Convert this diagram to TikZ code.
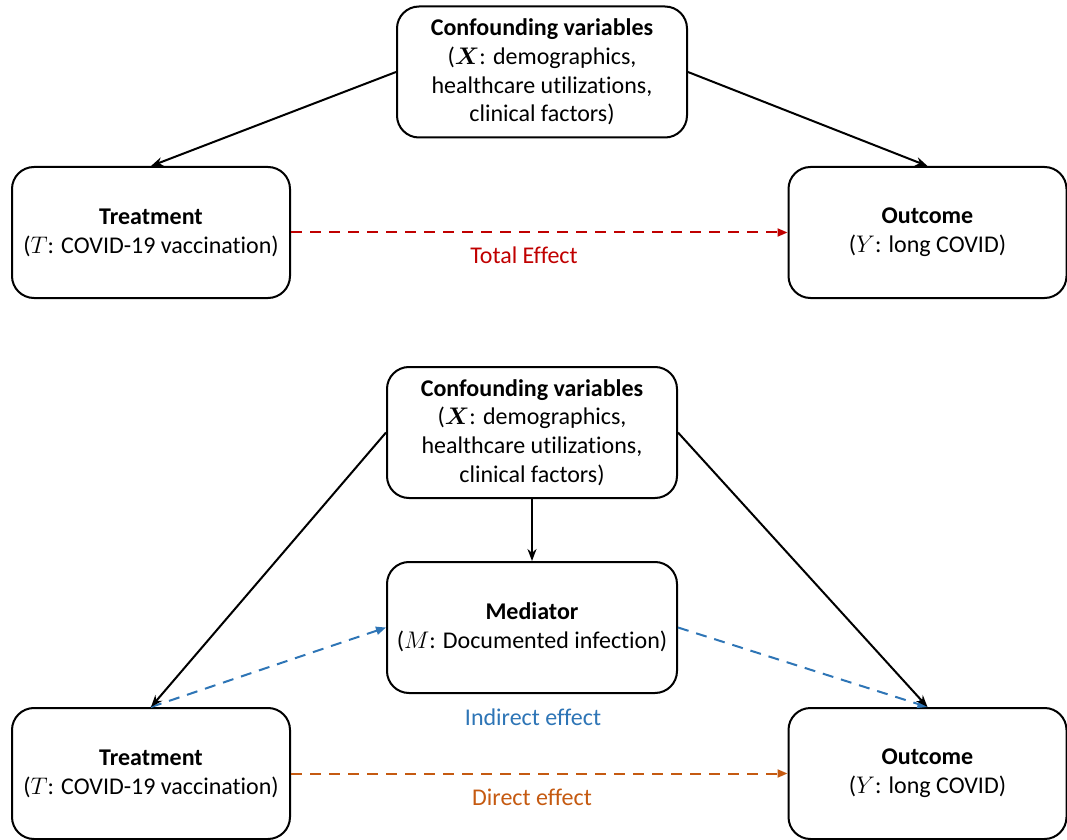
\documentclass[tikz,border=0pt]{standalone}
\usepackage{fontspec}
\setmainfont{Carlito}[Ligatures=NoCommon]
\usepackage{amsmath}
\usetikzlibrary{arrows.meta}
\definecolor{totalred}{RGB}{192,0,0}
\definecolor{indirblue}{RGB}{46,117,182}
\definecolor{dirorange}{RGB}{197,90,17}

\begin{document}
\begin{tikzpicture}[x=0.5pt,y=-0.5pt,
    font=\fontsize{12}{14.4}\selectfont,
    var/.style={draw,line width=1pt,rounded corners=11pt,align=center,minimum height=65.5pt,inner sep=0pt},
    side/.style={var,minimum width=139pt},
    mid/.style={var,minimum width=145pt},
    cause/.style={line width=1pt,-{Stealth[length=6pt,width=4.5pt]}},
    effect/.style={line width=1pt,dash pattern=on 5.5pt off 4pt,-{Triangle[length=5pt,width=4pt]}}]
    \useasboundingbox (0,0) rectangle (1067,840);
    \node[mid] (conf) at (542,72) {\textbf{Confounding variables}\\($\boldsymbol{X}$: demographics,\\healthcare utilizations,\\clinical factors)};
    \node[side] (treat) at (151,232.5) {\textbf{Treatment}\\($T$: COVID-19 vaccination)};
    \node[side] (outc) at (927.5,232.5) {\textbf{Outcome}\\($Y$: long COVID)};
    \draw[cause] (conf.west) -- (treat.north);
    \draw[cause] (conf.east) -- (outc.north);
    \draw[effect,totalred] (treat.east) -- (outc.west);
    \node[totalred] (total) at (524,255) {Total Effect};
    \node[mid] (conf2) at (532,432.5) {\textbf{Confounding variables}\\($\boldsymbol{X}$: demographics,\\healthcare utilizations,\\clinical factors)};
    \node[mid] (medi) at (532,627.5) {\textbf{Mediator}\\($M$: Documented infection)};
    \node[side] (treat2) at (151,773.5) {\textbf{Treatment}\\($T$: COVID-19 vaccination)};
    \node[side] (outc2) at (927.5,773.5) {\textbf{Outcome}\\($Y$: long COVID)};
    \draw[effect,indirblue] (treat2.north) -- (medi.west);
    \draw[effect,indirblue] (medi.east) -- (outc2.north);
    \draw[cause] (conf2.west) -- (treat2.north);
    \draw[cause] (conf2.east) -- (outc2.north);
    \draw[cause] (conf2.south) -- (medi.north);
    \draw[effect,dirorange] (treat2.east) -- (outc2.west);
    \node[indirblue] (indirect) at (533,717) {Indirect effect};
    \node[dirorange] (direct) at (532,797) {Direct effect};
\end{tikzpicture}
\end{document}
